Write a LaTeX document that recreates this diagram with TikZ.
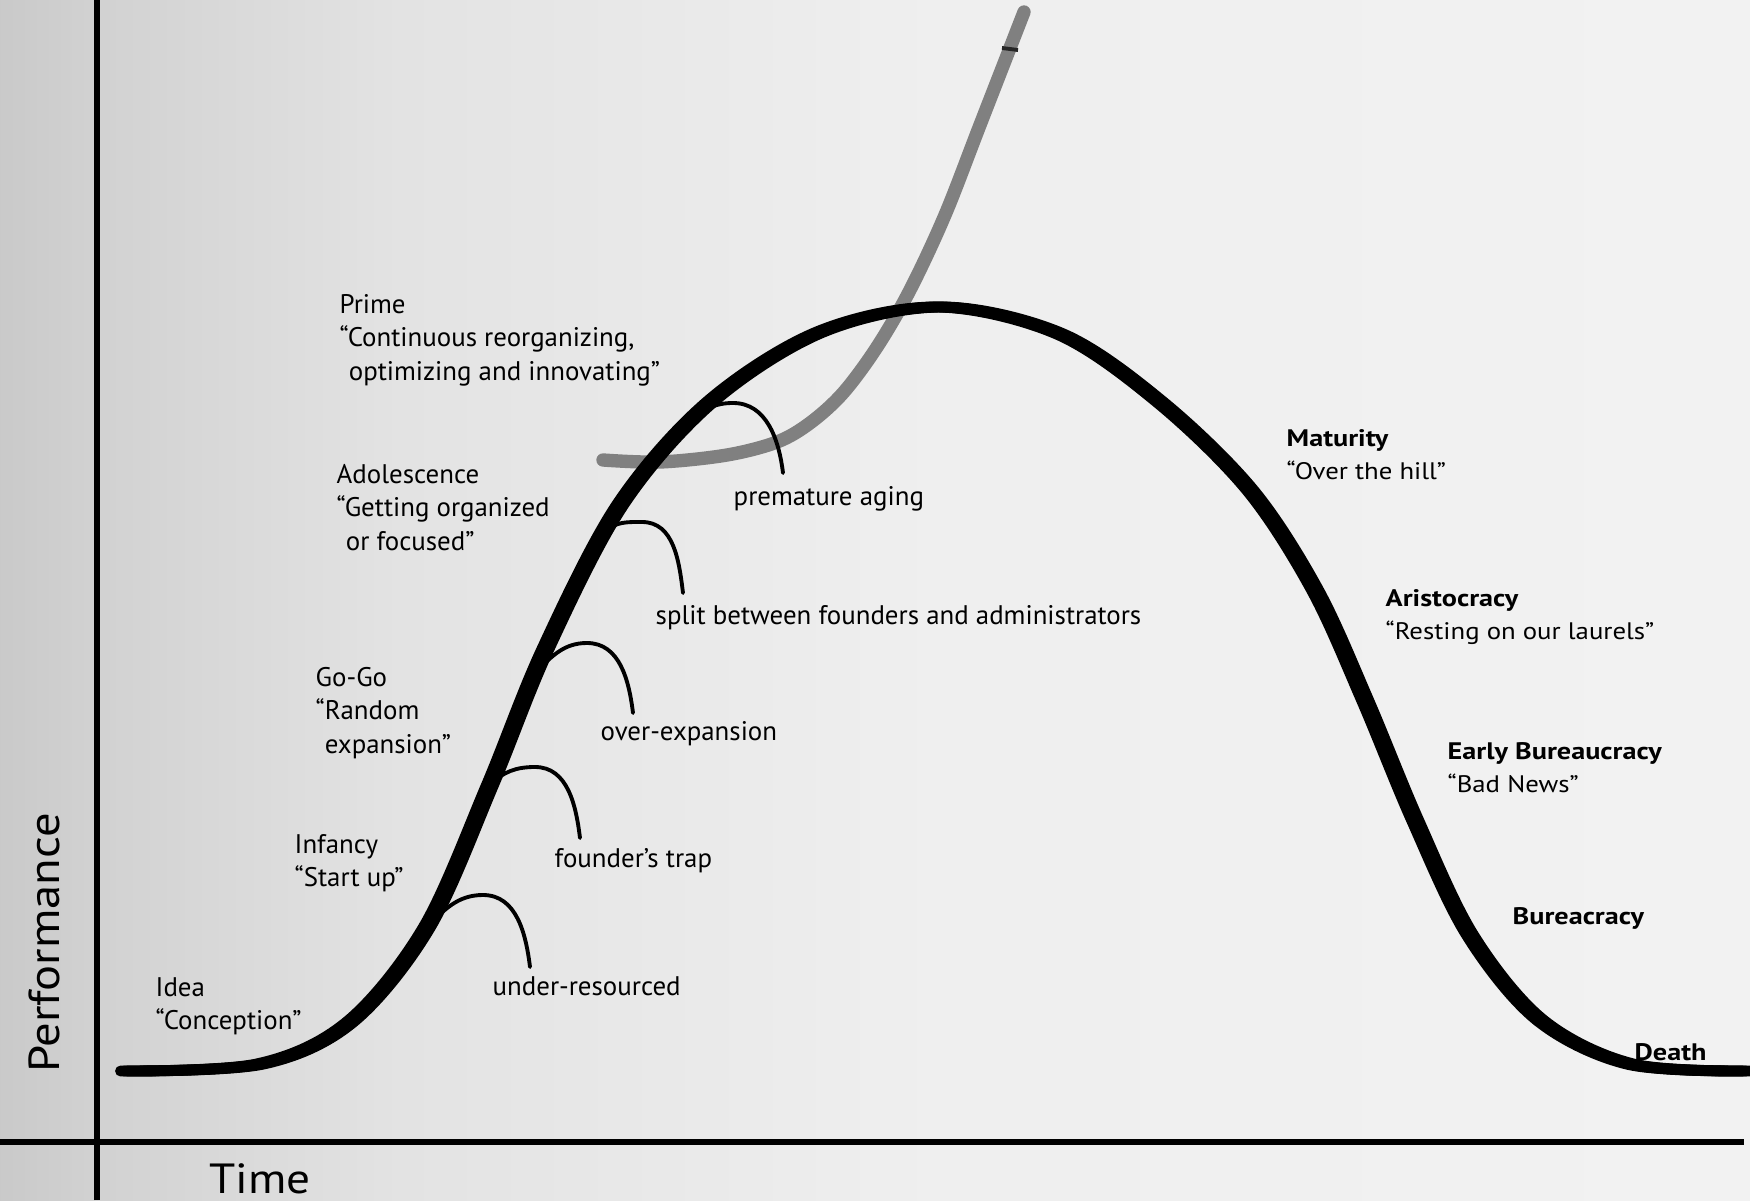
\documentclass[tikz,border=0pt]{standalone}
\usepackage{fontspec}
\setmainfont{PT Sans}
\newfontfamily\widefont[FakeStretch=1.12, BoldFeatures={FakeStretch=1.18}]{PT Sans}
\usepackage{tikz}
\usetikzlibrary{positioning}

\definecolor{bgA}{gray}{0.79}
\definecolor{bgB}{gray}{0.82}
\definecolor{bgC}{gray}{0.89}
\definecolor{bgD}{gray}{0.935}
\definecolor{bgE}{gray}{0.95}
\definecolor{ghost}{gray}{0.50}
\pgfdeclarehorizontalshading{paper}{100bp}{color(0bp)=(bgA); color(25bp)=(bgA);
  color(27.6bp)=(bgB); color(36.4bp)=(bgC); color(50.7bp)=(bgD); color(75bp)=(bgE); color(100bp)=(bgE)}

\begin{document}
\begin{tikzpicture}[
    every node/.style={inner sep=0pt, anchor=base west, align=left},
    stage/.style={font=\fontsize{7.65}{9.4}\selectfont},
    late/.style={font=\widefont\fontsize{6.8}{9.5}\selectfont},
    trap/.style={font=\fontsize{7.65}{9.4}\selectfont},
    axislabel/.style={font=\widefont\fontsize{12.35}{14}\selectfont},
    life/.style={line width=3.1pt, line cap=round, line join=round},
    branch/.style={line width=1.1pt, line cap=round},
    axis/.style={line width=1.5pt}
  ]
  % background
  \shade[shading=paper] (0,0) rectangle (17.5,12);
  \useasboundingbox (0,0) rectangle (17.5,12);

  % axes
  \coordinate (ytop) at (0.97,12);
  \coordinate (ybot) at (0.97,0);
  \coordinate (xleft) at (0,0.58);
  \coordinate (xright) at (17.44,0.58);
  \draw[axis] (ybot) -- (ytop);
  \draw[axis] (xleft) -- (xright);

  % where the traps leave the curve
  \coordinate (b1) at (4.27,2.73);
  \coordinate (b2) at (4.90,4.15);
  \coordinate (b3) at (5.36,5.28);
  \coordinate (b4) at (6.05,6.68);
  \coordinate (b5) at (6.92,7.82);
  % tops
  \coordinate (t1) at (4.83,3.05);
  \coordinate (t2) at (5.35,4.33);
  \coordinate (t3) at (5.87,5.57);
  \coordinate (t4) at (6.42,6.78);
  \coordinate (t5) at (7.33,7.97);
  % ends
  \coordinate (e1) at (5.30,2.33);
  \coordinate (e2) at (5.80,3.62);
  \coordinate (e3) at (6.33,4.87);
  \coordinate (e4) at (6.83,6.07);
  \coordinate (e5) at (7.83,7.27);

  % the new curve (grey)
  \draw[ghost, line width=3.8pt, line cap=round] plot[smooth, tension=0.55] coordinates {
    (6.03,7.40) (6.60,7.38) (7.27,7.45) (7.77,7.58) (8.10,7.77) (8.43,8.07)
    (8.77,8.53) (9.10,9.10) (9.45,9.85) (9.80,10.75) (10.24,11.88)};
  \draw[black!85, line width=1.1pt] (10.02,11.52) -- (10.18,11.50);

  % life cycle, flat nib
  \foreach \dx in {-0.035,0,0.035}
    \draw[life, xshift=\dx cm] plot[smooth, tension=0.55] coordinates {
      (1.24,1.29) (2.60,1.36) (3.50,1.78) (4.27,2.73) (4.90,4.15) (5.45,5.50)
      (6.20,6.95) (7.10,7.98) (8.20,8.68) (9.40,8.93) (10.60,8.66) (11.60,7.98)
      (12.50,7.10) (13.15,6.10) (13.65,5.00) (14.15,3.80) (14.70,2.65)
      (15.40,1.80) (16.30,1.36) (17.46,1.29)};

  % traps
  \draw[branch] (b1) to[out=45,in=180] (t1) to[out=0,in=97] (e1);
  \draw[branch] (b2) to[out=45,in=180] (t2) to[out=0,in=97] (e2);
  \draw[branch] (b3) to[out=45,in=180] (t3) to[out=0,in=97] (e3);
  \draw[branch] (b4) to[out=45,in=180] (t4) to[out=0,in=97] (e4);
  \draw[branch] (b5) to[out=35,in=180] (t5) to[out=0,in=97] (e5);

  % trap labels
  \node[trap] (under) at (4.92,2.05) {under-resourced};
  \node[trap] (founder) at (5.54,3.33) {founder’s trap};
  \node[trap] (over) at (6.00,4.60) {over-expansion};
  \node[trap] (split) at (6.55,5.76) {split between founders and administrators};
  \node[trap] (aging) at (7.33,6.95) {premature aging};

  % growing stages
  \node[stage] (idea) at (1.55,1.705) {Idea\\“Conception”};
  \node[stage] (infancy) at (2.94,3.135) {Infancy\\“Start up”};
  \node[stage] (gogo) at (3.15,4.47) {Go-Go\\“Random\\\phantom{“}expansion”};
  \node[stage] (adol) at (3.36,6.50) {Adolescence\\“Getting organized\\\phantom{“}or focused”};
  \node[stage] (prime) at (3.39,8.20) {Prime\\“Continuous reorganizing,\\\phantom{“}optimizing and innovating”};

  % aging stages
  \node[late] (mature) at (12.86,7.205) {\bfseries Maturity\\“Over the hill”};
  \node[late] (aristo) at (13.85,5.605) {\bfseries Aristocracy\\“Resting on our laurels”};
  \node[late] (early) at (14.47,4.075) {\bfseries Early Bureaucracy\\“Bad News”};
  \node[late] (bureau) at (15.12,2.76) {\bfseries Bureacracy};
  \node[late] (death) at (16.34,1.40) {\bfseries Death};

  % axis labels
  \node[axislabel, rotate=90, anchor=center] (perf) at (0.44,2.57) {Performance};
  \node[axislabel, font=\widefont\fontsize{12.0}{14}\selectfont] (time) at (2.09,0.07) {Time};
\end{tikzpicture}
\end{document}
